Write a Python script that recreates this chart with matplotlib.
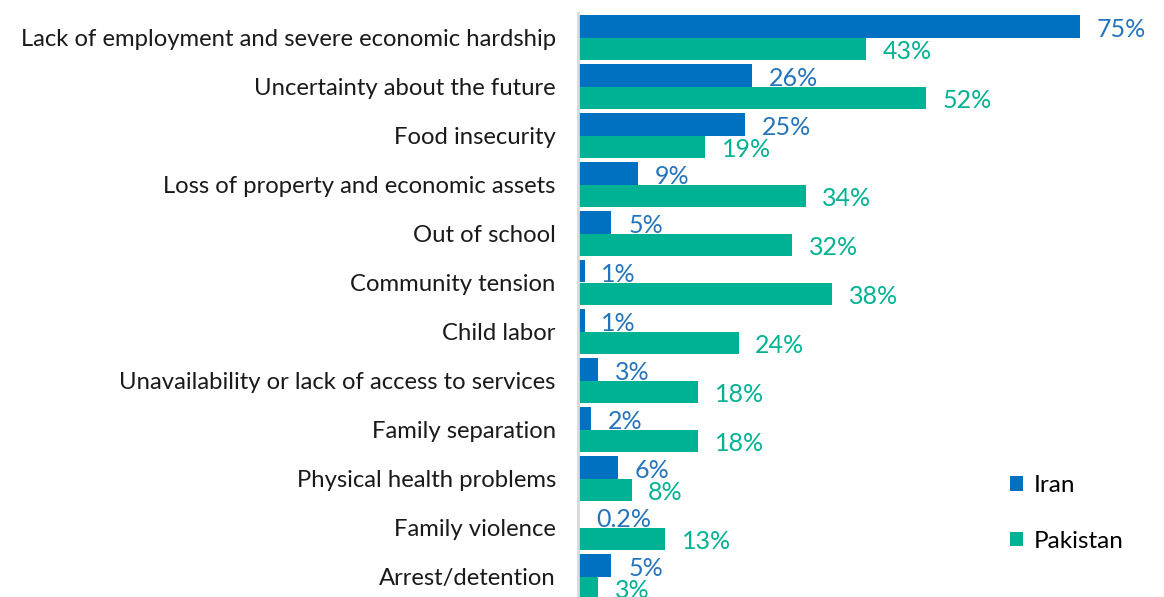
import matplotlib
matplotlib.use("Agg")
import matplotlib.pyplot as plt
import numpy as np

categories = [
    "Lack of employment and severe economic hardship",
    "Uncertainty about the future",
    "Food insecurity",
    "Loss of property and economic assets",
    "Out of school",
    "Community tension",
    "Child labor",
    "Unavailability or lack of access to services",
    "Family separation",
    "Physical health problems",
    "Family violence",
    "Arrest/detention",
]
iran = [75, 26, 25, 9, 5, 1, 1, 3, 2, 6, 0.2, 5]
pakistan = [43, 52, 19, 34, 32, 38, 24, 18, 18, 8, 13, 3]
iran_labels = ["75%", "26%", "25%", "9%", "5%", "1%", "1%", "3%", "2%", "6%", "0.2%", "5%"]
pakistan_labels = ["43%", "52%", "19%", "34%", "32%", "38%", "24%", "18%", "18%", "8%", "13%", "3%"]

IRAN_C = "#0070C0"
PAK_C = "#00B294"
IRAN_TXT = "#2474BC"

plt.rcParams["font.family"] = ["Lato", "DejaVu Sans"]

W, H = 1164, 597
fig = plt.figure(figsize=(W / 100, H / 100), dpi=100)
ax_left, ax_right = 578, 1164
ax_top, ax_bottom = 13, 601
ax = fig.add_axes([ax_left / W, (H - ax_bottom) / H, (ax_right - ax_left) / W, (ax_bottom - ax_top) / H])

n = len(categories)
y = np.arange(n)
bh = 0.46
ax.barh(y - bh / 2, iran, height=bh, color=IRAN_C, label="Iran")
ax.barh(y + bh / 2, pakistan, height=bh, color=PAK_C, label="Pakistan")

for yi, v, t in zip(y, iran, iran_labels):
    ax.annotate(t, (v, yi - bh / 2), xytext=(12.0, -2.0), textcoords="offset points",
                ha="left", va="center", fontsize=18, color=IRAN_TXT)
for yi, v, t in zip(y, pakistan, pakistan_labels):
    ax.annotate(t, (v, yi + bh / 2), xytext=(12.0, -2.0), textcoords="offset points",
                ha="left", va="center", fontsize=18, color=PAK_C)

ax.set_xlim(0, (ax_right - ax_left) / ((1080 - 578) / 75))
ax.set_ylim(n - 0.5, -0.5)
ax.set_yticks(y)
ax.set_yticklabels(categories, fontsize=17.2, color="#1a1a1a")
ax.tick_params(axis="y", length=0, pad=16)
ax.set_xticks([])
for s in ["top", "right", "bottom"]:
    ax.spines[s].set_visible(False)
ax.spines["left"].set_color("#D9D9D9")
ax.spines["left"].set_linewidth(2)

leg = ax.legend(loc="center left", bbox_to_anchor=((988 - ax_left) / (ax_right - ax_left), (ax_bottom - 513.5) / (ax_bottom - ax_top)),
                frameon=False, fontsize=17.5, handlelength=0.55, handleheight=0.55,
                handletextpad=0.45, labelspacing=1.42)

fig.savefig("out.png", dpi=100)
